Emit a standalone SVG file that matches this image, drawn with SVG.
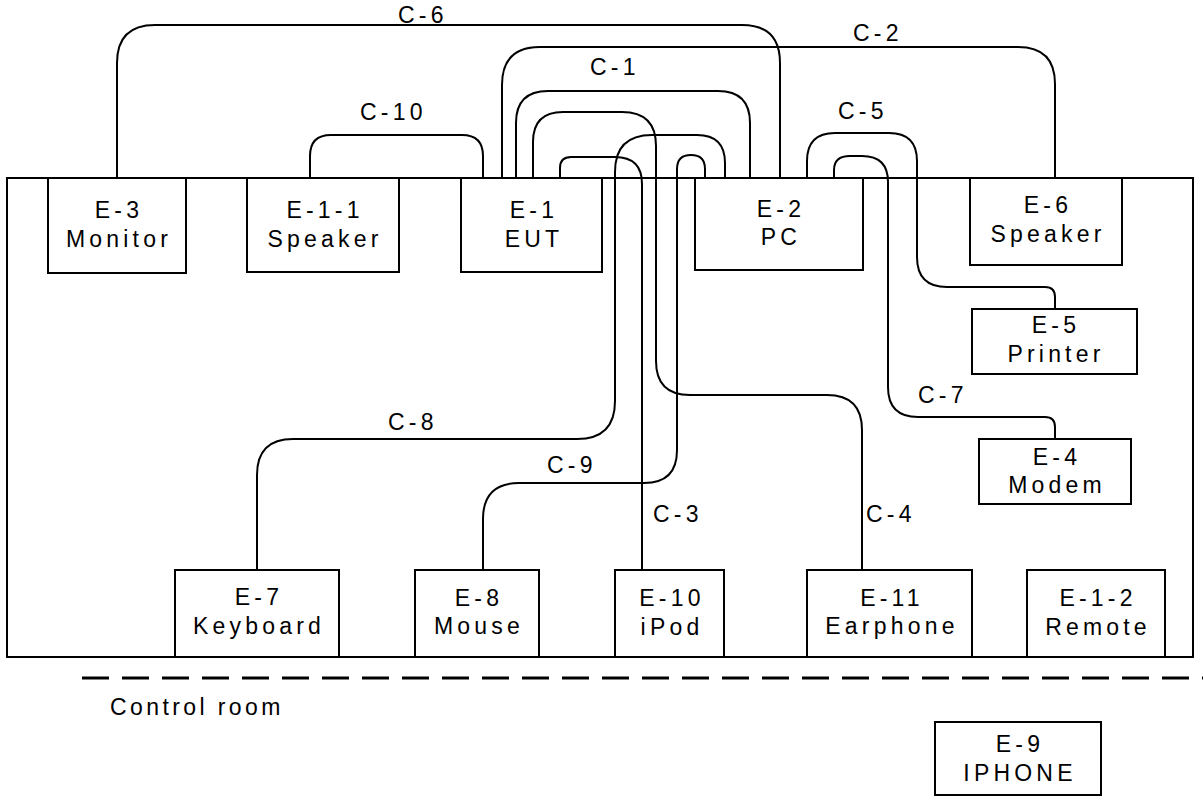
<svg xmlns="http://www.w3.org/2000/svg" width="1203" height="796" viewBox="0 0 1203 796">
<style>
.b{fill:#fff;stroke:#000;stroke-width:2}
.w{fill:none;stroke:#000;stroke-width:2}
text{font-family:"Liberation Sans",Arial,sans-serif;font-size:23px;letter-spacing:4.2px;fill:#000}
.m{text-anchor:middle}
</style>
<rect width="1203" height="796" fill="#fff"/>
<g id="room"><rect x="7" y="178" width="1186" height="479" fill="none" stroke="#000" stroke-width="2"/></g>
<path d="M82,678 H1203" stroke="#000" stroke-width="3" stroke-dasharray="27 13" fill="none"/>
<text x="110" y="715" style="letter-spacing:3.4px">Control room</text>
<g id="connectors">
<path class="w" d="M117,178 V63 Q117,25 155,25 H742 Q780,25 780,63 V178"/>
<path class="w" d="M502,178 V85 Q502,47 540,47 H1018 Q1055,47 1055,84 V178"/>
<path class="w" d="M516,178 V123 Q516,91 548,91 H718 Q750,91 750,123 V178"/>
<path class="w" d="M560,178 V168 Q560,157 571,157 H615 Q642,157 642,184 V570"/>
<path class="w" d="M533,178 V142 Q533,112 563,112 H622 Q656,112 656,146 V361 Q656,395 690,395 H827 Q862,395 862,430 V570"/>
<path class="w" d="M725,178 V163 Q725,135 697,135 H652 Q615,135 615,172 V401 Q615,439 577,439 H293 Q257,439 257,475 V570"/>
<path class="w" d="M705,178 V169 Q705,155 691,155 Q677,155 677,169 V450 Q677,483 644,483 H519 Q483,483 483,519 V570"/>
<path class="w" d="M310,178 V156 Q310,135 331,135 H462 Q483,135 483,156 V178"/>
<path class="w" d="M807,178 V161 Q807,133 835,133 H889 Q917,133 917,161 V257 Q917,287 947,287 H1045 Q1055,287 1055,297 V309"/>
<path class="w" d="M834,178 V170 Q834,156 850,156 H862 Q888,156 888,182 V387 Q888,417 918,417 H1045 Q1055,417 1055,427 V439"/>
</g>
<g id="labels">
<text x="398" y="23">C-6</text>
<text x="853" y="41">C-2</text>
<text x="590" y="75">C-1</text>
<text x="360" y="120">C-10</text>
<text x="838" y="119">C-5</text>
<text x="388" y="430">C-8</text>
<text x="547" y="473">C-9</text>
<text x="653" y="522">C-3</text>
<text x="866" y="522">C-4</text>
<text x="918" y="403">C-7</text>
</g>
<g id="E-3"><rect class="b" x="48" y="178" width="138" height="95"/><text class="m" x="119" y="218">E-3</text><text class="m" x="119" y="247">Monitor</text></g>
<g id="E-1-1"><rect class="b" x="247" y="178" width="152" height="94"/><text class="m" x="325" y="218">E-1-1</text><text class="m" x="325" y="247">Speaker</text></g>
<g id="E-1"><rect class="b" x="461" y="178" width="141" height="94"/><text class="m" x="534" y="218">E-1</text><text class="m" x="534" y="247">EUT</text></g>
<g id="E-2"><rect class="b" x="695" y="178" width="168" height="92"/><text class="m" x="781" y="217">E-2</text><text class="m" x="781" y="245">PC</text></g>
<g id="E-6"><rect class="b" x="970" y="178" width="152" height="87"/><text class="m" x="1048" y="213">E-6</text><text class="m" x="1048" y="242">Speaker</text></g>
<g id="E-5"><rect class="b" x="972" y="309" width="165" height="65"/><text class="m" x="1056" y="333">E-5</text><text class="m" x="1056" y="362">Printer</text></g>
<g id="E-4"><rect class="b" x="979" y="439" width="152" height="65"/><text class="m" x="1057" y="465">E-4</text><text class="m" x="1057" y="493">Modem</text></g>
<g id="E-7"><rect class="b" x="175" y="570" width="164" height="87"/><text class="m" x="259" y="605">E-7</text><text class="m" x="259" y="634">Keyboard</text></g>
<g id="E-8"><rect class="b" x="415" y="570" width="124" height="87"/><text class="m" x="479" y="606">E-8</text><text class="m" x="479" y="634">Mouse</text></g>
<g id="E-10"><rect class="b" x="615" y="570" width="109" height="87"/><text class="m" x="672" y="606">E-10</text><text class="m" x="672" y="635">iPod</text></g>
<g id="E-11"><rect class="b" x="807" y="570" width="165" height="87"/><text class="m" x="892" y="606">E-11</text><text class="m" x="892" y="634">Earphone</text></g>
<g id="E-1-2"><rect class="b" x="1027" y="570" width="138" height="87"/><text class="m" x="1098" y="606">E-1-2</text><text class="m" x="1098" y="635">Remote</text></g>
<g id="E-9"><rect class="b" x="935" y="722" width="166" height="73"/><text class="m" x="1020" y="752">E-9</text><text class="m" x="1020" y="781">IPHONE</text></g>
</svg>
